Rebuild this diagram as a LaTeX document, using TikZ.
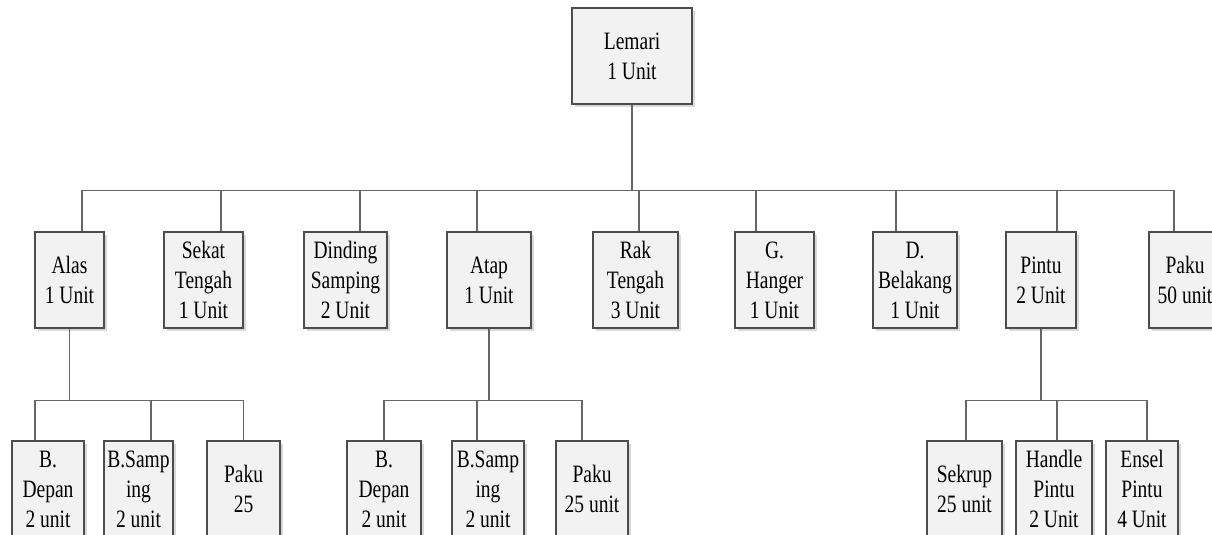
\documentclass[tikz,border=0pt]{standalone}
\usepackage{fontspec}
\setmainfont{Liberation Serif}[FakeStretch=0.78]
\usetikzlibrary{shadows}

\begin{document}
\begin{tikzpicture}[x=1pt,y=-1pt,
    part/.style={draw=black!70, fill=black!5, line width=1.1pt, inner sep=0pt,
        minimum height=96pt, align=center, font=\fontsize{25}{30}\selectfont,
        drop shadow={shadow xshift=3pt,shadow yshift=-3pt,fill=black!15,opacity=1}},
    link/.style={draw=black!60, line width=1.1pt}]
    \useasboundingbox (0,0) rectangle (1212,535);
    \clip (0,0) rectangle (1212,535);
    \node [part, minimum width=120pt] (lemari) at (632,56) {Lemari\\1 Unit};

    \node [part, minimum width=69pt] (alas) at (69.5,280) {Alas\\1 Unit};
    \node [part, minimum width=79pt] (sekat) at (203.5,280) {Sekat\\Tengah\\1 Unit};
    \node [part, minimum width=83pt] (dinding) at (345.5,280) {Dinding\\Samping\\2 Unit};
    \node [part, minimum width=84pt] (atap) at (489,280) {Atap\\1 Unit};
    \node [part, minimum width=85pt] (rak) at (635.5,280) {Rak\\Tengah\\3 Unit};
    \node [part, minimum width=79pt] (hanger) at (774.5,280) {G.\\Hanger\\1 Unit};
    \node [part, minimum width=84pt] (belakang) at (915,280) {D.\\Belakang\\1 Unit};
    \node [part, minimum width=70pt] (pintu) at (1041,280) {Pintu\\2 Unit};
    \node [part, minimum width=72pt] (paku) at (1185,280) {Paku\\50 unit};

    \node [part, minimum width=72pt] (depana) at (48,489) {B.\\Depan\\2 unit};
    \node [part, minimum width=69pt] (sampinga) at (138.5,489) {B.Samp\\ing\\2 unit};
    \node [part, minimum width=73pt] (pakua) at (243.5,489) {Paku\\25};
    \node [part, minimum width=74pt] (depanb) at (384,489) {B.\\Depan\\2 unit};
    \node [part, minimum width=72pt] (sampingb) at (488,489) {B.Samp\\ing\\2 unit};
    \node [part, minimum width=72pt] (pakub) at (592,489) {Paku\\25 unit};
    \node [part, minimum width=75pt] (sekrup) at (964.5,489) {Sekrup\\25 unit};
    \node [part, minimum width=76pt] (handle) at (1054,489) {Handle\\Pintu\\2 Unit};
    \node [part, minimum width=72pt] (ensel) at (1142,489) {Ensel\\Pintu\\4 Unit};

    \foreach \n/\s in {alas/12.5, sekat/17.5, dinding/14.5, atap/-12, rak/3.5,
        hanger/-18.5, belakang/-19, pintu/16, paku/-11}
        \draw [link] (lemari.south) -- ++(0,86) -| ([xshift=\s pt]\n.north);
    \foreach \n/\s in {depana/-13, sampinga/12.5, pakua/0}
        \draw [link] (alas.south) -- ++(0,72) -| ([xshift=\s pt]\n.north);
    \foreach \n/\s in {depanb/0, sampingb/-11, pakub/-10}
        \draw [link] (atap.south) -- ++(0,72) -| ([xshift=\s pt]\n.north);
    \foreach \n/\s in {sekrup/1.5, handle/3, ensel/5}
        \draw [link] (pintu.south) -- ++(0,72) -| ([xshift=\s pt]\n.north);
\end{tikzpicture}
\end{document}
